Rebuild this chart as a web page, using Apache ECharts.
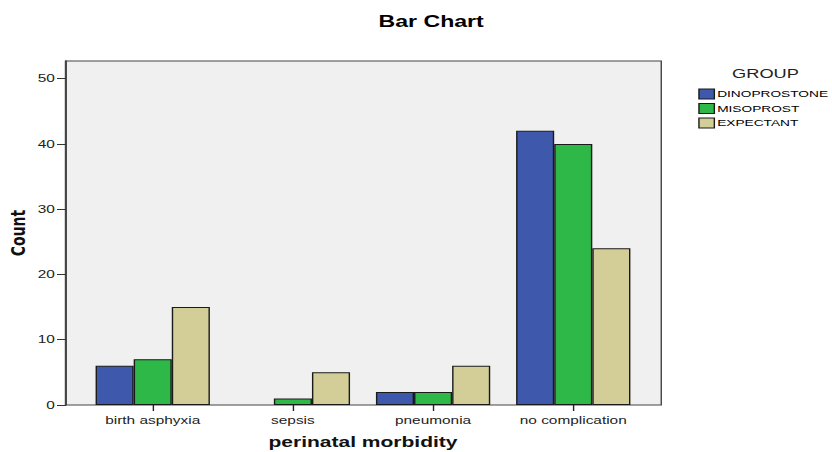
<!DOCTYPE html>
<html><head><meta charset="utf-8">
<script src="https://cdn.jsdelivr.net/npm/echarts@6/dist/echarts.min.js"></script>
<style>
html,body{margin:0;padding:0;background:#fff;overflow:hidden}
#c{width:594px;height:452px;transform:scaleX(1.4007);transform-origin:0 0}
</style>
</head><body><div id="c"></div>
<script>
const categories = ['birth asphyxia', 'sepsis', 'pneumonia', 'no complication'];
const dinoprostone = [6, 0, 2, 42];
const misoprost = [7, 1, 2, 40];
const expectant = [15, 5, 6, 24];
const seriesNames = ['DINOPROSTONE', 'MISOPROST', 'EXPECTANT'];
const yTickLabels = ['0', '10', '20', '30', '40', '50'];
const colors = ['#3e58ac', '#2eb848', '#d3ce97'];

const chart = echarts.init(document.getElementById('c'), null, { renderer: 'svg' });
const FONT = 'Liberation Sans, Arial, sans-serif';
const yMax = 52.7;
const mk = (name, data, i) => ({
  name, type: 'bar', data: data.map(v => v === 0 ? '-' : v), xAxisIndex: 1, yAxisIndex: 1,
  barWidth: 27.2, barGap: 0,
  itemStyle: { color: colors[i], borderColor: '#1a1a1a', borderWidth: 1 }
});
chart.setOption({
  animation: false,
  textStyle: { fontFamily: FONT },
  title: [
    { text: 'Bar Chart', left: 307.8, top: 12.5, textAlign: 'center', padding: 0,
      textStyle: { fontSize: 16.5, fontWeight: 'bold', color: '#000', fontFamily: FONT } },
    { text: 'GROUP', left: 546.5, top: 66.5, textAlign: 'center', padding: 0,
      textStyle: { fontSize: 13, fontWeight: 'normal', color: '#222', fontFamily: FONT } }
  ],
  legend: {
    orient: 'vertical', left: 498.5, top: 88.5, itemWidth: 11, itemHeight: 10, itemGap: 3.5,
    icon: 'rect', padding: 0,
    itemStyle: { borderColor: '#1a1a1a', borderWidth: 1 },
    textStyle: { fontSize: 9.8, color: '#000', padding: [0, 0, 0, -3], fontFamily: FONT },
    data: seriesNames
  },
  grid: [
    { left: 47.1, right: 121.9, top: 61, bottom: 47, show: true, backgroundColor: '#f0f0f0',
      borderColor: '#444', borderWidth: 1, outerBoundsMode: 'none', containLabel: false },
    { left: 59, right: 134.7, top: 61, bottom: 47, outerBoundsMode: 'none', containLabel: false }
  ],
  xAxis: [
    { type: 'value', gridIndex: 0, show: false, min: 0, max: 1 },
    { type: 'category', gridIndex: 1, data: categories,
      axisLine: { show: false },
      axisTick: { show: true, alignWithLabel: true, length: 6, lineStyle: { color: '#222' } },
      axisLabel: { fontSize: 11, color: '#222', margin: 10, fontFamily: FONT },
      name: 'perinatal morbidity', nameLocation: 'middle', nameGap: 29, nameMoveOverlap: false,
      nameTextStyle: { fontSize: 15, fontWeight: 'bold', color: '#111', fontFamily: FONT }
    }
  ],
  yAxis: [
    { type: 'value', gridIndex: 0, min: 0, max: yMax, interval: 10,
      axisLine: { show: true, lineStyle: { color: '#444', width: 1.5 } },
      axisTick: { show: true, length: 6.4, lineStyle: { color: '#333' } },
      axisLabel: { fontSize: 11, color: '#222', margin: 8, showMaxLabel: false, fontFamily: FONT,
        formatter: v => yTickLabels[Math.round(v / 10)] || '' },
      splitLine: { show: false },
      name: 'Count', nameLocation: 'middle', nameGap: 27, nameRotate: 90, nameMoveOverlap: false,
      nameTextStyle: { fontSize: 14, fontWeight: 'bold', color: '#111', fontFamily: 'DejaVu Sans, sans-serif' }
    },
    { type: 'value', gridIndex: 1, min: 0, max: yMax, show: false, splitLine: { show: false } }
  ],
  series: [
    mk(seriesNames[0], dinoprostone, 0),
    mk(seriesNames[1], misoprost, 1),
    mk(seriesNames[2], expectant, 2)
  ]
});
</script></body></html>
